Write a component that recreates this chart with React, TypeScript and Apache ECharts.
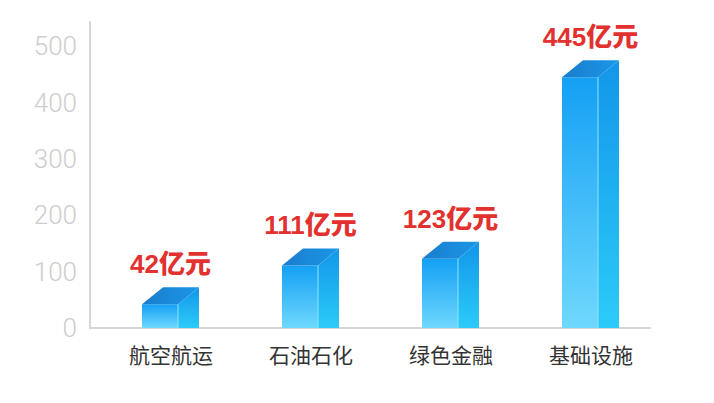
import { useEffect, useRef } from 'react';
import * as echarts from 'echarts';

const categories = ['航空航运', '石油石化', '绿色金融', '基础设施'];
const values = [42, 111, 123, 445];
const unit = '亿元';
const yMax = 543;

// 3D bar geometry (px)
const FRONT_W = 36;
const DEPTH_X = 21;
const DEPTH_Y = 17;

const App = () => {
    const chartRef = useRef<HTMLDivElement>(null);

    useEffect(() => {
        document.body.style.margin = '0';
        if (!chartRef.current) return;
        const chart = echarts.init(chartRef.current, undefined, { renderer: 'svg' });

        const renderItem = (_params: any, api: any) => {
            const idx = api.value(0);
            const val = api.value(1);
            const top = api.coord([idx, val]);
            const base = api.coord([idx, 0]);
            const x0 = top[0] - FRONT_W / 2;
            const x1 = top[0] + FRONT_W / 2;
            const yT = top[1];
            const yB = base[1];
            return {
                type: 'group',
                children: [
                    {
                        type: 'polygon',
                        shape: { points: [[x0, yT], [x1, yT], [x1, yB], [x0, yB]] },
                        style: {
                            fill: new echarts.graphic.LinearGradient(0, 0, 0, 1, [
                                { offset: 0, color: '#14a0f4' },
                                { offset: 1, color: '#6fd8fd' }
                            ])
                        }
                    },
                    {
                        type: 'polygon',
                        shape: { points: [[x1, yT], [x1 + DEPTH_X, yT - DEPTH_Y], [x1 + DEPTH_X, yB], [x1, yB]] },
                        style: {
                            fill: new echarts.graphic.LinearGradient(0, 0, 0, 1, [
                                { offset: 0, color: '#1296ea' },
                                { offset: 1, color: '#2ccbf8' }
                            ])
                        }
                    },
                    {
                        type: 'polygon',
                        shape: { points: [[x0, yT], [x0 + DEPTH_X, yT - DEPTH_Y], [x1 + DEPTH_X, yT - DEPTH_Y], [x1, yT]] },
                        style: {
                            fill: new echarts.graphic.LinearGradient(0, 0, 1, 0, [
                                { offset: 0, color: '#1a7ccd' },
                                { offset: 1, color: '#1b97e6' }
                            ])
                        }
                    },
                    {
                        type: 'line',
                        shape: { x1: x1, y1: yT, x2: x1, y2: yB },
                        style: { stroke: '#8fe4ff', lineWidth: 1 }
                    },
                    {
                        type: 'text',
                        x: top[0] + DEPTH_X / 2,
                        y: yT - DEPTH_Y - 23,
                        style: {
                            text: `${val}${unit}`,
                            align: 'center',
                            verticalAlign: 'middle',
                            fill: '#e2312f',
                            fontSize: 26,
                            fontWeight: 900,
                            fontFamily: '"Liberation Sans", "Noto Sans CJK SC", sans-serif'
                        }
                    }
                ]
            };
        };

        chart.setOption({
            animation: false,
            backgroundColor: '#ffffff',
            grid: { left: 90, right: 64, top: 22, bottom: 75 },
            xAxis: {
                type: 'category',
                data: categories,
                axisLine: { lineStyle: { color: '#d6d6d6', width: 2 } },
                axisTick: { show: false },
                axisLabel: {
                    color: '#333333',
                    fontSize: 21,
                    margin: 15,
                    padding: [0, 0, 0, DEPTH_X + 1],
                    fontFamily: '"Noto Sans CJK SC", sans-serif'
                }
            },
            yAxis: {
                type: 'value',
                min: 0,
                max: yMax,
                interval: 100,
                splitLine: { show: false },
                axisTick: { show: false },
                axisLine: { show: true, lineStyle: { color: '#d6d6d6', width: 2 } },
                axisLabel: {
                    color: '#cdcdcd',
                    fontSize: 26,
                    margin: 13,
                    fontFamily: 'Roboto, "Liberation Sans", sans-serif',
                    fontWeight: 300,
                    formatter: (v: number) => (v % 100 === 0 ? String(v) : '')
                }
            },
            series: [
                {
                    type: 'custom',
                    renderItem,
                    clip: false,
                    encode: { x: 0, y: 1 },
                    data: values.map((v, i) => [i, v])
                }
            ]
        });

        return () => chart.dispose();
    }, []);

    return <div ref={chartRef} style={{ width: 714, height: 403 }} />;
};

export default App;
